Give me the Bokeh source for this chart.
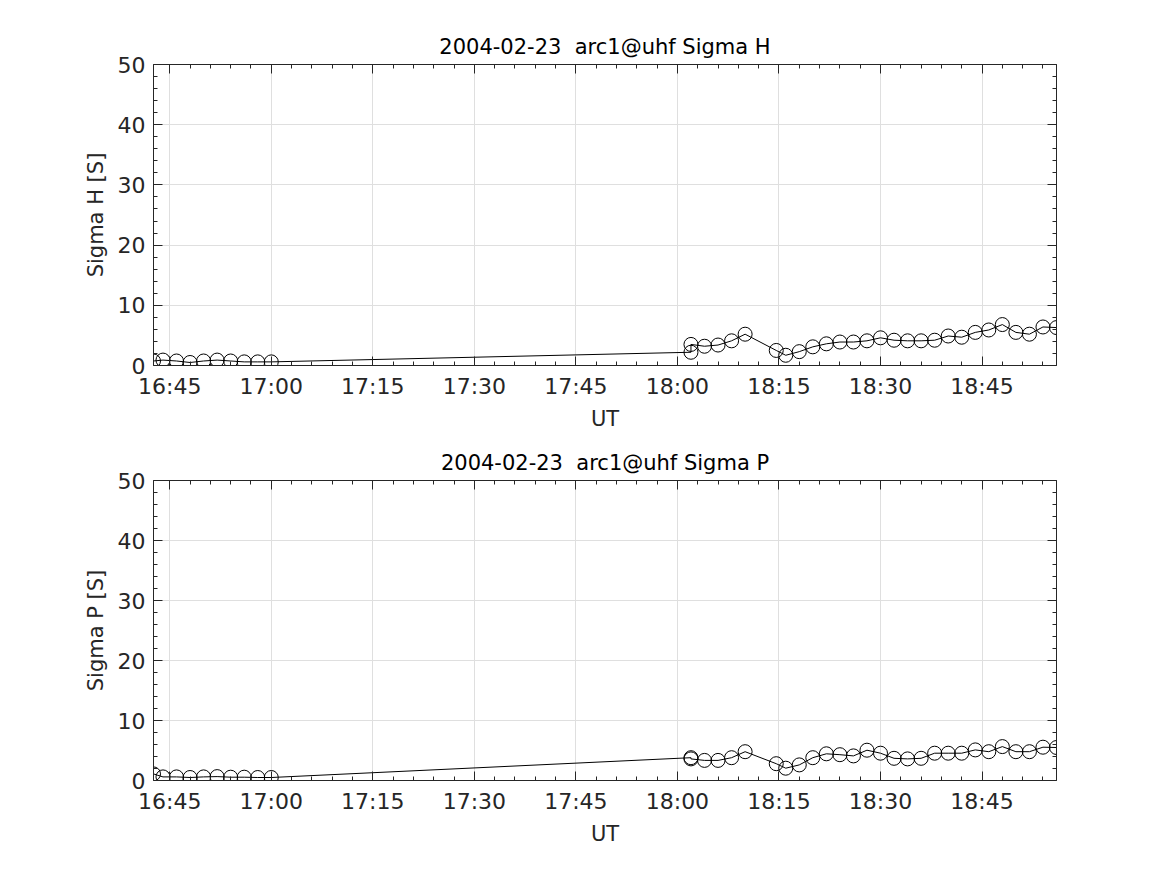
from bokeh.plotting import figure
from bokeh.layouts import column
from bokeh.models import LinearAxis, FixedTicker, Range1d, CustomLabelingPolicy
from bokeh.embed import file_html
from bokeh.resources import INLINE

# ---- data ----
times = ["16:42:36", "16:44:00", "16:46:00", "16:48:00", "16:50:00", "16:52:00",
         "16:54:00", "16:56:00", "16:58:00", "17:00:00",
         "18:02:00", "18:02:00", "18:04:00", "18:06:00", "18:08:00", "18:10:00",
         "18:14:36", "18:16:00", "18:18:00", "18:20:00", "18:22:00", "18:24:00",
         "18:26:00", "18:28:00", "18:30:00", "18:32:00", "18:34:00", "18:36:00",
         "18:38:00", "18:40:00", "18:42:00", "18:44:00", "18:46:00", "18:48:00",
         "18:50:00", "18:52:00", "18:54:00", "18:56:00"]

sigma_h = [0.75, 0.9, 0.75, 0.5, 0.75, 0.9, 0.75, 0.6, 0.6, 0.6,
           2.2, 3.5, 3.2, 3.4, 4.1, 5.2,
           2.5, 1.7, 2.3, 3.1, 3.6, 3.9,
           3.9, 4.1, 4.6, 4.2, 4.1, 4.1,
           4.2, 4.9, 4.7, 5.5, 5.9, 6.8,
           5.5, 5.2, 6.4, 6.3]

sigma_p = [1.1, 0.6, 0.6, 0.5, 0.6, 0.65, 0.55, 0.55, 0.5, 0.5,
           3.8, 3.6, 3.35, 3.35, 3.8, 4.8,
           2.8, 2.05, 2.6, 3.8, 4.45, 4.3,
           4.1, 5.05, 4.55, 3.7, 3.6, 3.7,
           4.55, 4.55, 4.55, 5.1, 4.8, 5.65,
           4.8, 4.8, 5.55, 5.5]

x_tick_labels = ["16:45", "17:00", "17:15", "17:30", "17:45", "18:00", "18:15", "18:30", "18:45"]
titles = ["2004-02-23\u00a0 arc1@uhf Sigma H", "2004-02-23\u00a0 arc1@uhf Sigma P"]
ylabels = ["Sigma H [S]", "Sigma P [S]"]


def to_min(s):
    h, m, sec = (int(v) for v in s.split(":"))
    return h * 60 + m + sec / 60.0


tmin = [to_min(t) for t in times]
major_x = [to_min(l + ":00") for l in x_tick_labels]
minor_x = list(range(1002, 1137, 3))
overrides = {m: l for m, l in zip(major_x, x_tick_labels)}

AX = "#262626"
GRID = "#dfdfdf"
FONT = "DejaVu Sans"

NO_LABELS = """
const all = [...indices];
for (const i of all) indices.unset(i);
return indices;
"""


def style_axis(ax, show_labels):
    ax.axis_line_color = AX
    ax.major_tick_line_color = AX
    ax.minor_tick_line_color = AX
    ax.major_tick_in = 9
    ax.major_tick_out = 0
    ax.minor_tick_in = 4
    ax.minor_tick_out = 0
    ax.major_label_text_font = FONT
    ax.major_label_text_color = AX
    ax.major_label_text_font_size = "22px"
    ax.axis_label_text_font = FONT
    ax.axis_label_text_font_size = "21px"
    ax.axis_label_text_font_style = "normal"
    ax.axis_label_text_color = AX
    if not show_labels:
        ax.major_label_policy = CustomLabelingPolicy(code=NO_LABELS)
        ax.major_label_text_font_size = "0px"
        ax.major_label_standoff = 0


def make(y, title, ylabel, top_border, bottom_border, fh):
    p = figure(frame_width=903, frame_height=fh,
               x_range=Range1d(tmin[0], tmin[-1]), y_range=Range1d(0, 50),
               output_backend="svg", toolbar_location=None,
               min_border_left=153, min_border_right=103,
               min_border_top=top_border, min_border_bottom=bottom_border,
               title=title)
    p.title.align = "center"
    p.title.text_font = FONT
    p.title.text_font_size = "21px"
    p.title.text_font_style = "normal"
    p.title.text_color = "black"
    p.title.standoff = 12
    p.outline_line_color = None

    xt = FixedTicker(ticks=major_x, minor_ticks=minor_x)
    yt = FixedTicker(ticks=[0, 10, 20, 30, 40, 50], minor_ticks=list(range(0, 51, 2)))

    p.xaxis.ticker = xt
    p.xaxis.major_label_overrides = overrides
    p.xaxis.axis_label = "UT"
    p.yaxis.ticker = yt
    p.yaxis.axis_label = ylabel
    style_axis(p.xaxis[0], True)
    style_axis(p.yaxis[0], True)
    p.xaxis.major_label_standoff = 8
    p.xaxis.axis_label_standoff = 5
    p.yaxis.major_label_standoff = 8
    p.yaxis.axis_label_standoff = 7

    top = LinearAxis(ticker=xt)
    style_axis(top, False)
    p.add_layout(top, "above")
    right = LinearAxis(ticker=yt)
    style_axis(right, False)
    p.add_layout(right, "right")

    p.xgrid.ticker = xt
    p.ygrid.ticker = yt
    p.xgrid.grid_line_color = GRID
    p.ygrid.grid_line_color = GRID

    p.line(tmin, y, line_color="black", line_width=1)
    p.scatter(tmin, y, marker="circle", size=14, fill_color=None,
              line_color="black", line_width=1)
    return p


p1 = make(sigma_h, titles[0], ylabels[0], 64, 71, 301)
p2 = make(sigma_p, titles[1], ylabels[1], 44, 80, 300)
layout = column(p1, p2, spacing=0)

open("out.html", "w").write(file_html(layout, INLINE))
